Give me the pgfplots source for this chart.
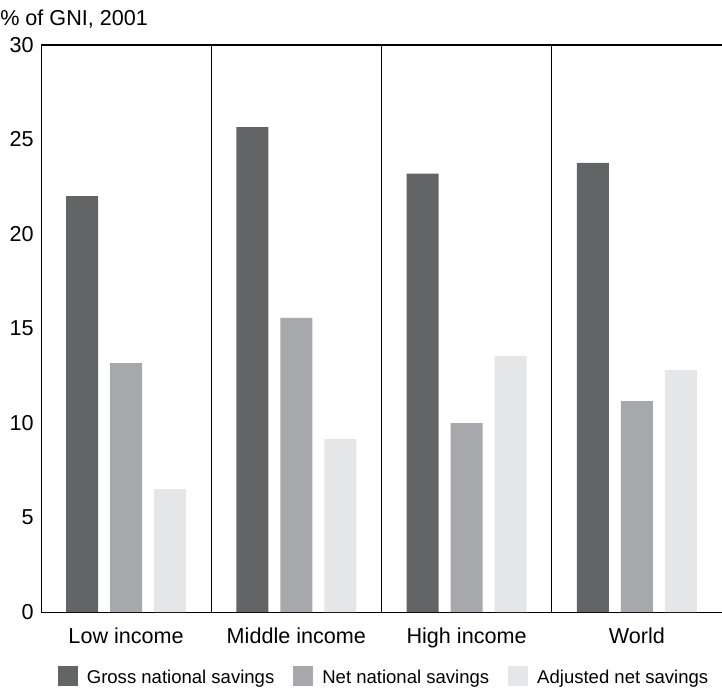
\documentclass[border=0pt]{standalone}
\usepackage{pgfplots}
\pgfplotsset{compat=1.18}
\usepackage{fontspec}
\setmainfont{Liberation Sans}
\definecolor{cgross}{HTML}{636466}
\definecolor{cnet}{HTML}{A7A8AB}
\definecolor{cadj}{HTML}{E5E6E7}
\begin{document}
\begin{tikzpicture}
\begin{axis}[
  width=510.75pt, height=425.25pt, scale only axis,
  xmin=-0.5, xmax=3.5, ymin=0, ymax=30,
  axis x line*=bottom, axis y line*=left,
  ytick={0,5,...,30},
  xtick={0,1,2,3},
  xticklabels={Low income, Middle income, High income, World},
  major tick length=0pt,
  tick style={draw=none},
  x tick label style={font=\fontsize{16.2}{18}\selectfont, yshift=-8pt},
  y tick label style={font=\fontsize{16.2}{18}\selectfont, xshift=-2pt},
  /pgf/number format/assume math mode=true,
  ybar=0pt, bar width=0.188,
  bar shift auto=false,
  clip=false,
  legend style={at={(rel axis cs:0.504,-0.1146)}, anchor=center, draw=none,
    font=\fontsize{13.9}{16}\selectfont, legend columns=3,
    /tikz/every odd column/.append style={column sep=5pt},
    /tikz/every even column/.append style={column sep=12pt}},
  legend image code/.code={\fill[#1] (0cm,-6pt) rectangle (15pt,9pt);},
]
\addplot[fill=cgross, draw=none, bar shift=-0.259] coordinates {(0,22.0) (1,25.66) (2,23.2) (3,23.76)};
\addplot[fill=cnet, draw=none, bar shift=0] coordinates {(0,13.17) (1,15.56) (2,10.0) (3,11.16)};
\addplot[fill=cadj, draw=none, bar shift=0.259] coordinates {(0,6.5) (1,9.15) (2,13.55) (3,12.8)};
\legend{Gross national savings, Net national savings, Adjusted net savings}
\draw[black, line width=0.5pt] (axis cs:0.5,0) -- (axis cs:0.5,30);
\draw[black, line width=0.5pt] (axis cs:1.5,0) -- (axis cs:1.5,30);
\draw[black, line width=0.5pt] (axis cs:2.5,0) -- (axis cs:2.5,30);
\draw[black, line width=0.8pt] (rel axis cs:0,1) -- (rel axis cs:1,1);
\node[anchor=west, font=\fontsize{16.2}{18}\selectfont, inner sep=0pt] at (rel axis cs:-0.0602,1.0458) {\% of GNI, 2001};
\coordinate (bl) at (rel axis cs:-0.0602,-0.1376);
\coordinate (tr) at (rel axis cs:1,1.0794);
\end{axis}
\pgfresetboundingbox
\path[use as bounding box] (bl) rectangle (tr);
\end{tikzpicture}
\end{document}
